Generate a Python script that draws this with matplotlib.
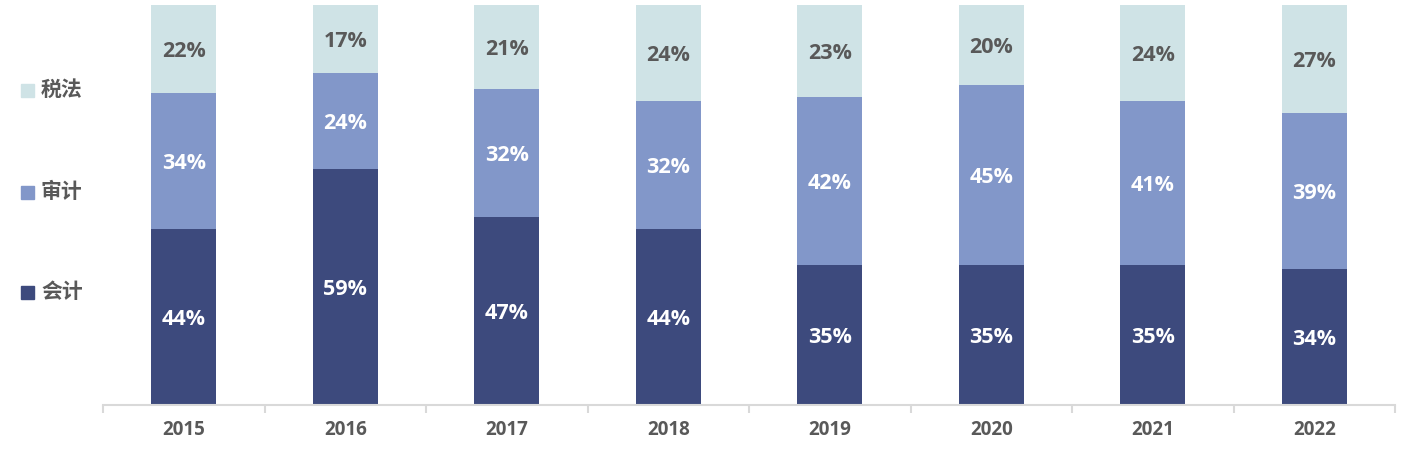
import matplotlib.pyplot as plt
import numpy as np
from matplotlib.patches import Rectangle

years = ['2015', '2016', '2017', '2018', '2019', '2020', '2021', '2022']
series = ['会计', '审计', '税法']
kuaiji = [44, 59, 47, 44, 35, 35, 35, 34]
shenji = [34, 24, 32, 32, 42, 45, 41, 39]
shuifa = [22, 17, 21, 24, 23, 20, 24, 27]

colors = ['#3D4A7D', '#8297C9', '#CFE3E6']
text_colors = ['white', 'white', '#595959']

plt.rcParams['font.family'] = ['Open Sans', 'Noto Sans CJK SC', 'DejaVu Sans']

fig = plt.figure(figsize=(14.09, 4.66), dpi=100)
ax = fig.add_axes([103 / 1409, 61 / 466, 1292 / 1409, 400 / 466])

x = np.arange(len(years))
bottom = np.zeros(len(years))
for vals, col, tcol in zip([kuaiji, shenji, shuifa], colors, text_colors):
    vals = np.array(vals)
    ax.bar(x, vals, 0.4, bottom=bottom, color=col)
    for xi, b, v in zip(x, bottom, vals):
        ax.text(xi, b + v / 2, f'{v}%', ha='center', va='center_baseline',
                color=tcol, fontsize=15.5, fontweight='bold')
    bottom += vals

ax.set_xlim(-0.5, len(years) - 0.5)
ax.set_ylim(0, 100)
for s in ['top', 'right', 'left']:
    ax.spines[s].set_visible(False)
ax.spines['bottom'].set_color('#D9D9D9')
ax.spines['bottom'].set_linewidth(1.5)
ax.set_yticks([])
ax.set_xticks(np.arange(len(years) + 1) - 0.5)
ax.set_xticklabels([])
ax.set_xticks(x, minor=True)
ax.set_xticklabels(years, minor=True, fontsize=13.5, fontweight='bold', color='#595959')
ax.tick_params(axis='x', which='major', length=6, width=1.5, color='#D9D9D9')
ax.tick_params(axis='x', which='minor', length=0, pad=11)

# legend on the left, top to bottom: 税法, 审计, 会计
leg_y = [376, 274, 174]
for name, col, yy in zip(series[::-1], colors[::-1], leg_y):
    fig.patches.append(Rectangle((21 / 1409, (yy - 7) / 466), 13 / 1409, 13 / 466,
                                 transform=fig.transFigure, color=col))
    fig.text(41 / 1409, yy / 466, name, ha='left', va='center',
             fontsize=15, fontweight='bold', color='#595959')

fig.savefig('out.png', dpi=100)
